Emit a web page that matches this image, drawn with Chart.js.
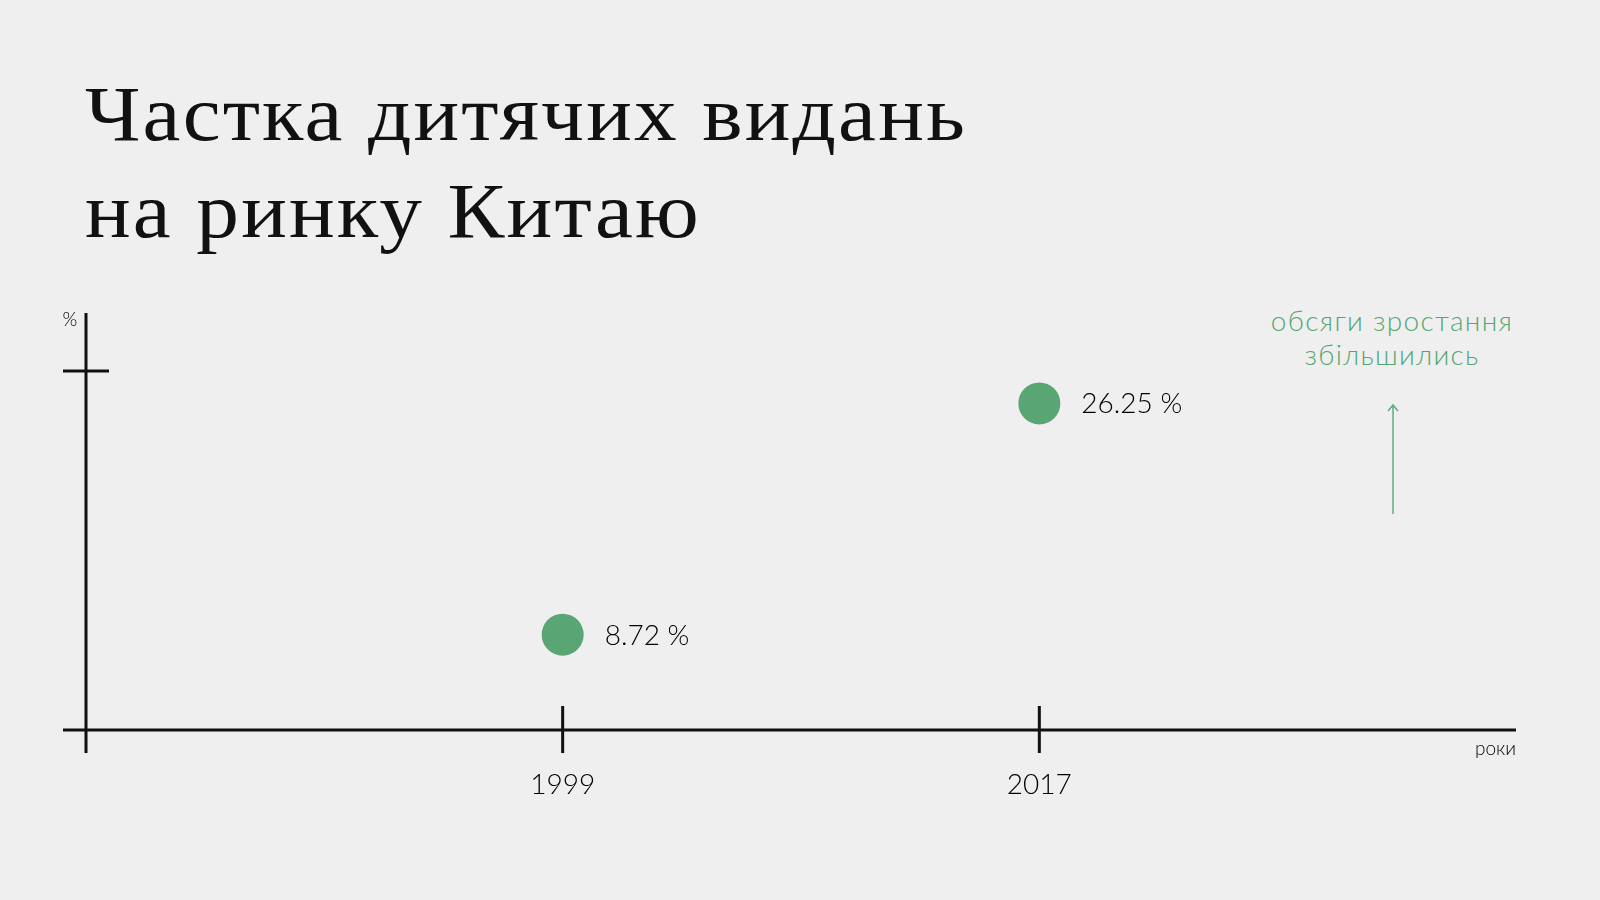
<!DOCTYPE html>
<html>
<head>
<meta charset="utf-8">
<script src="https://cdn.jsdelivr.net/npm/chart.js@4.4.0/dist/chart.umd.min.js"></script>
<style>
  html, body { margin: 0; padding: 0; background: #efefef; }
  body { width: 1600px; height: 900px; position: relative; overflow: hidden; }
  #chart { position: absolute; left: 0; top: 0; }
  .title {
    position: absolute; left: 85px; top: 0; margin: 0;
    font-family: "Liberation Serif", "DejaVu Serif", serif; font-weight: 400;
    font-size: 79px; letter-spacing: 2px; color: #111; white-space: nowrap;
    transform: scaleX(1.08); transform-origin: left top;
  }
  .note {
    position: absolute; left: 1242px; top: 303px; width: 300px; text-align: center;
    font-family: Lato, "Open Sans", sans-serif; font-weight: 300; font-size: 28px;
    line-height: 34px; color: #55a771; letter-spacing: 1.3px;
  }
</style>
</head>
<body>
<div class="title" style="top:69px">Частка дитячих видань</div>
<div class="title" style="top:166px">на ринку Китаю</div>
<div class="note">обсяги зростання<br>збільшились</div>
<canvas id="chart" width="1600" height="900"></canvas>
<script>
// data
const years = ['1999', '2017'];
const shares = [8.72, 26.25];
const yMarks = [28.7];        // crossbar on the y axis
const unitY = '%';
const unitX = 'роки';

const green = '#59a574';
const ink = '#111';
const sans = 'Lato, "Open Sans", sans-serif';

// axes, ticks, labels and the arrow drawn over the scales
const axesPlugin = {
    id: 'axesPlugin',
    afterDatasetsDraw(chart) {
        const { ctx, chartArea: a, scales: { x, y } } = chart;
        ctx.save();
        ctx.strokeStyle = ink;
        ctx.lineWidth = 3;
        ctx.beginPath();
        ctx.moveTo(a.left - 23, a.bottom); ctx.lineTo(a.right, a.bottom);
        ctx.moveTo(a.left, a.top); ctx.lineTo(a.left, a.bottom + 23);
        years.forEach((yr, i) => {
            const px = x.getPixelForValue(i + 1);
            ctx.moveTo(px, a.bottom - 24); ctx.lineTo(px, a.bottom + 23);
        });
        yMarks.forEach(v => {
            const py = y.getPixelForValue(v);
            ctx.moveTo(a.left - 23, py); ctx.lineTo(a.left + 23, py);
        });
        ctx.stroke();

        ctx.fillStyle = '#000';
        ctx.textBaseline = 'middle';
        ctx.font = '300 28px ' + sans;
        ctx.textAlign = 'center';
        years.forEach((yr, i) => ctx.fillText(yr, x.getPixelForValue(i + 1), a.bottom + 55));
        ctx.textAlign = 'left';
        shares.forEach((v, i) => {
            ctx.fillText(v.toFixed(2) + ' %', x.getPixelForValue(i + 1) + 42, y.getPixelForValue(v) + 1);
        });
        ctx.font = '300 19px ' + sans;
        ctx.textAlign = 'right';
        ctx.fillText(unitX, a.right, a.bottom + 19);
        ctx.textAlign = 'center';
        ctx.fillText(unitY, a.left - 16, a.top + 7);

        // arrow
        const ax = 1393;
        ctx.strokeStyle = '#5fae7d';
        ctx.lineWidth = 1.5;
        ctx.beginPath();
        ctx.moveTo(ax, 514); ctx.lineTo(ax, 405);
        ctx.moveTo(ax - 5, 411); ctx.lineTo(ax, 405); ctx.lineTo(ax + 5, 411);
        ctx.stroke();
        ctx.restore();
    }
};

new Chart(document.getElementById('chart'), {
    type: 'scatter',
    data: {
        datasets: [{
            data: shares.map((v, i) => ({ x: i + 1, y: v })),
            backgroundColor: green,
            borderColor: green,
            pointRadius: 21,
            pointHoverRadius: 21,
            borderWidth: 0
        }]
    },
    options: {
        responsive: false,
        animation: false,
        events: [],
        layout: { padding: { left: 86, right: 84, top: 313, bottom: 170 } },
        plugins: { legend: { display: false }, tooltip: { enabled: false } },
        scales: {
            x: { type: 'linear', min: 0, max: 3, display: false },
            y: { type: 'linear', min: 1.5, max: 33.1, display: false }
        }
    },
    plugins: [axesPlugin]
});
</script>
</body>
</html>
